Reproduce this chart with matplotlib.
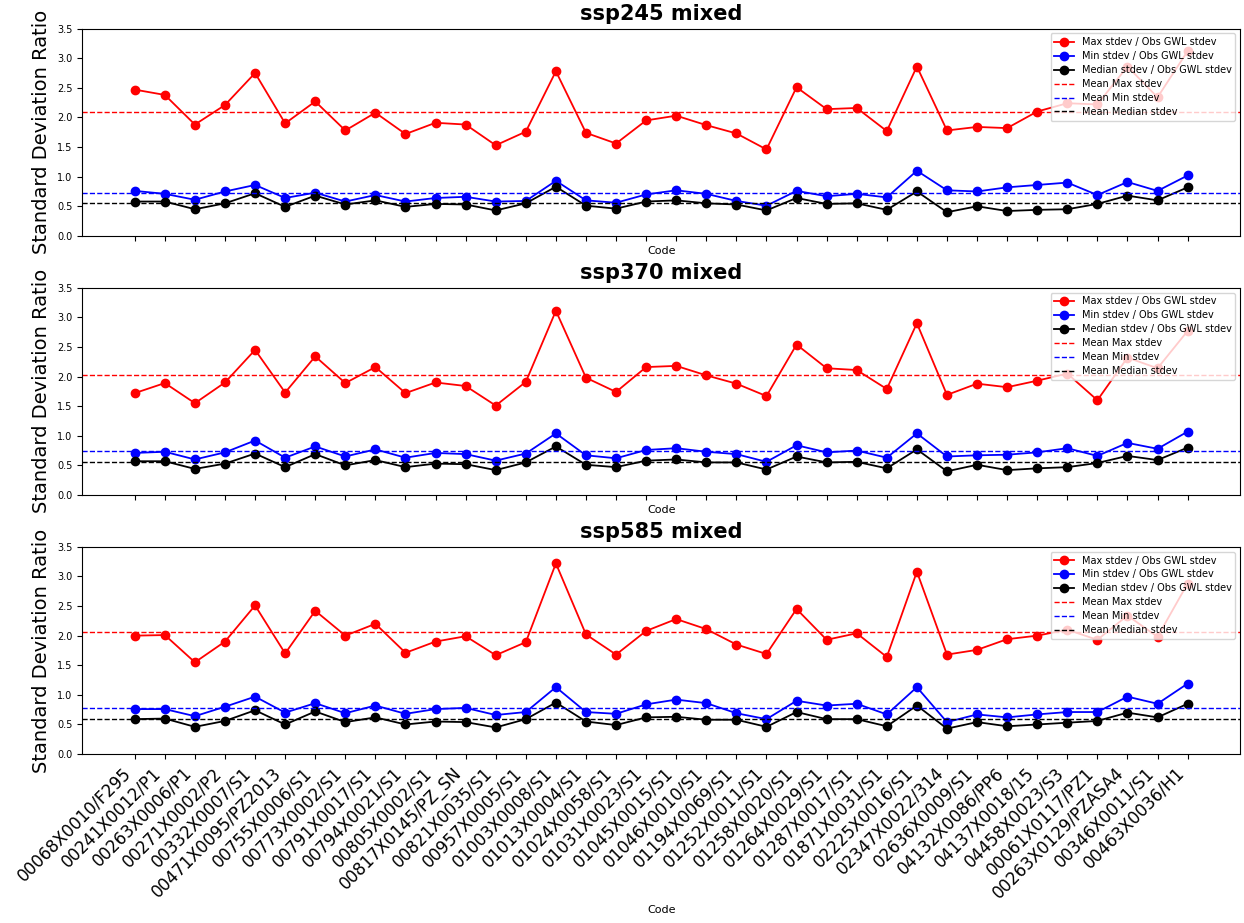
import matplotlib
matplotlib.use("Agg")
import matplotlib.pyplot as plt
import numpy as np

codes = [
    "00068X0010/F295", "00241X0012/P1", "00263X0006/P1", "00271X0002/P2",
    "00332X0007/S1", "00471X0095/PZ2013", "00755X0006/S1", "00773X0002/S1",
    "00791X0017/S1", "00794X0021/S1", "00805X0002/S1", "00817X0145/PZ_SN",
    "00821X0035/S1", "00957X0005/S1", "01003X0008/S1", "01013X0004/S1",
    "01024X0058/S1", "01031X0023/S1", "01045X0015/S1", "01046X0010/S1",
    "01194X0069/S1", "01252X0011/S1", "01258X0020/S1", "01264X0029/S1",
    "01287X0017/S1", "01871X0031/S1", "02225X0016/S1", "02347X0022/314",
    "02636X0009/S1", "04132X0086/PP6", "04137X0018/15", "04458X0023/S3",
    "00061X0117/PZ1", "00263X0129/PZASA4", "00346X0011/S1", "00463X0036/H1",
]

scenarios = ["ssp245 mixed", "ssp370 mixed", "ssp585 mixed"]

max_245 = [2.47, 2.38, 1.88, 2.21, 2.75, 1.90, 2.27, 1.78, 2.08, 1.72, 1.91, 1.88,
           1.53, 1.76, 2.78, 1.74, 1.56, 1.95, 2.03, 1.87, 1.73, 1.46, 2.51, 2.14,
           2.16, 1.77, 2.86, 1.78, 1.84, 1.82, 2.10, 2.24, 2.22, 2.86, 2.34, 3.12]
min_245 = [0.76, 0.71, 0.61, 0.75, 0.86, 0.64, 0.73, 0.58, 0.69, 0.58, 0.64, 0.66,
           0.58, 0.59, 0.93, 0.60, 0.56, 0.70, 0.77, 0.71, 0.59, 0.51, 0.76, 0.67,
           0.71, 0.65, 1.10, 0.77, 0.75, 0.82, 0.86, 0.90, 0.69, 0.91, 0.76, 1.02]
med_245 = [0.58, 0.58, 0.45, 0.55, 0.72, 0.49, 0.68, 0.53, 0.60, 0.49, 0.54, 0.53,
           0.43, 0.55, 0.83, 0.51, 0.46, 0.58, 0.60, 0.55, 0.53, 0.43, 0.64, 0.54,
           0.55, 0.44, 0.75, 0.40, 0.50, 0.42, 0.44, 0.45, 0.54, 0.68, 0.60, 0.82]

max_370 = [1.72, 1.89, 1.55, 1.90, 2.45, 1.73, 2.34, 1.89, 2.16, 1.72, 1.90, 1.84,
           1.51, 1.91, 3.11, 1.98, 1.74, 2.16, 2.18, 2.02, 1.88, 1.67, 2.54, 2.14,
           2.11, 1.79, 2.90, 1.69, 1.88, 1.82, 1.93, 2.05, 1.60, 2.32, 2.14, 2.77]
min_370 = [0.71, 0.73, 0.60, 0.72, 0.92, 0.63, 0.82, 0.65, 0.77, 0.63, 0.71, 0.69,
           0.58, 0.70, 1.04, 0.67, 0.62, 0.76, 0.79, 0.73, 0.69, 0.56, 0.84, 0.72,
           0.75, 0.63, 1.04, 0.65, 0.67, 0.68, 0.72, 0.79, 0.66, 0.88, 0.78, 1.07]
med_370 = [0.57, 0.57, 0.44, 0.53, 0.70, 0.47, 0.69, 0.50, 0.59, 0.47, 0.53, 0.52,
           0.42, 0.55, 0.82, 0.51, 0.47, 0.58, 0.60, 0.55, 0.55, 0.43, 0.65, 0.55,
           0.56, 0.45, 0.77, 0.40, 0.51, 0.42, 0.45, 0.47, 0.54, 0.66, 0.59, 0.80]

max_585 = [2.00, 2.01, 1.55, 1.90, 2.51, 1.70, 2.42, 2.00, 2.20, 1.71, 1.90, 1.99,
           1.67, 1.89, 3.22, 2.02, 1.68, 2.08, 2.28, 2.11, 1.85, 1.69, 2.45, 1.93,
           2.04, 1.64, 3.08, 1.68, 1.76, 1.94, 2.00, 2.10, 1.93, 2.34, 1.98, 2.88]
min_585 = [0.76, 0.76, 0.64, 0.80, 0.97, 0.70, 0.86, 0.69, 0.82, 0.68, 0.76, 0.78,
           0.66, 0.71, 1.13, 0.71, 0.68, 0.84, 0.92, 0.86, 0.69, 0.59, 0.90, 0.82,
           0.85, 0.67, 1.13, 0.54, 0.67, 0.62, 0.67, 0.71, 0.71, 0.97, 0.85, 1.19]
med_585 = [0.59, 0.60, 0.46, 0.56, 0.74, 0.50, 0.72, 0.54, 0.62, 0.50, 0.55, 0.54,
           0.45, 0.59, 0.87, 0.55, 0.49, 0.62, 0.63, 0.58, 0.58, 0.46, 0.71, 0.59,
           0.59, 0.47, 0.82, 0.43, 0.54, 0.47, 0.50, 0.53, 0.56, 0.70, 0.62, 0.85]

series = [
    (max_245, min_245, med_245),
    (max_370, min_370, med_370),
    (max_585, min_585, med_585),
]

fig, axes = plt.subplots(3, 1, figsize=(12.44, 9.23), dpi=100, sharex=True)
fig.subplots_adjust(left=0.066, right=0.997, top=0.969, bottom=0.183, hspace=0.25)

for ax, title, (mx, mn, md) in zip(axes, scenarios, series):
    ax.plot(codes, mx, marker="o", color="red", lw=1.3, ms=6, label="Max stdev / Obs GWL stdev")
    ax.plot(codes, mn, marker="o", color="blue", lw=1.3, ms=6, label="Min stdev / Obs GWL stdev")
    ax.plot(codes, md, marker="o", color="black", lw=1.3, ms=6, label="Median stdev / Obs GWL stdev")
    ax.axhline(np.mean(mx), color="red", ls="--", lw=1, label="Mean Max stdev")
    ax.axhline(np.mean(mn), color="blue", ls="--", lw=1, label="Mean Min stdev")
    ax.axhline(np.mean(md), color="black", ls="--", lw=1, label="Mean Median stdev")
    ax.set_ylim(0, 3.5)
    ax.set_title(title, fontsize=15, fontweight="bold")
    ax.set_ylabel("Standard Deviation Ratio", fontsize=14)
    ax.set_xlabel("Code", fontsize=8)
    ax.xaxis.set_tick_params(labelbottom=ax is axes[-1])
    ax.tick_params(axis="y", labelsize=7)
    ax.legend(loc="upper right", fontsize=7, labelspacing=0.4)

plt.setp(axes[-1].get_xticklabels(), rotation=45, ha="right", fontsize=12)
axes[-1].xaxis.labelpad = 2

fig.savefig("out.png", dpi=100)
